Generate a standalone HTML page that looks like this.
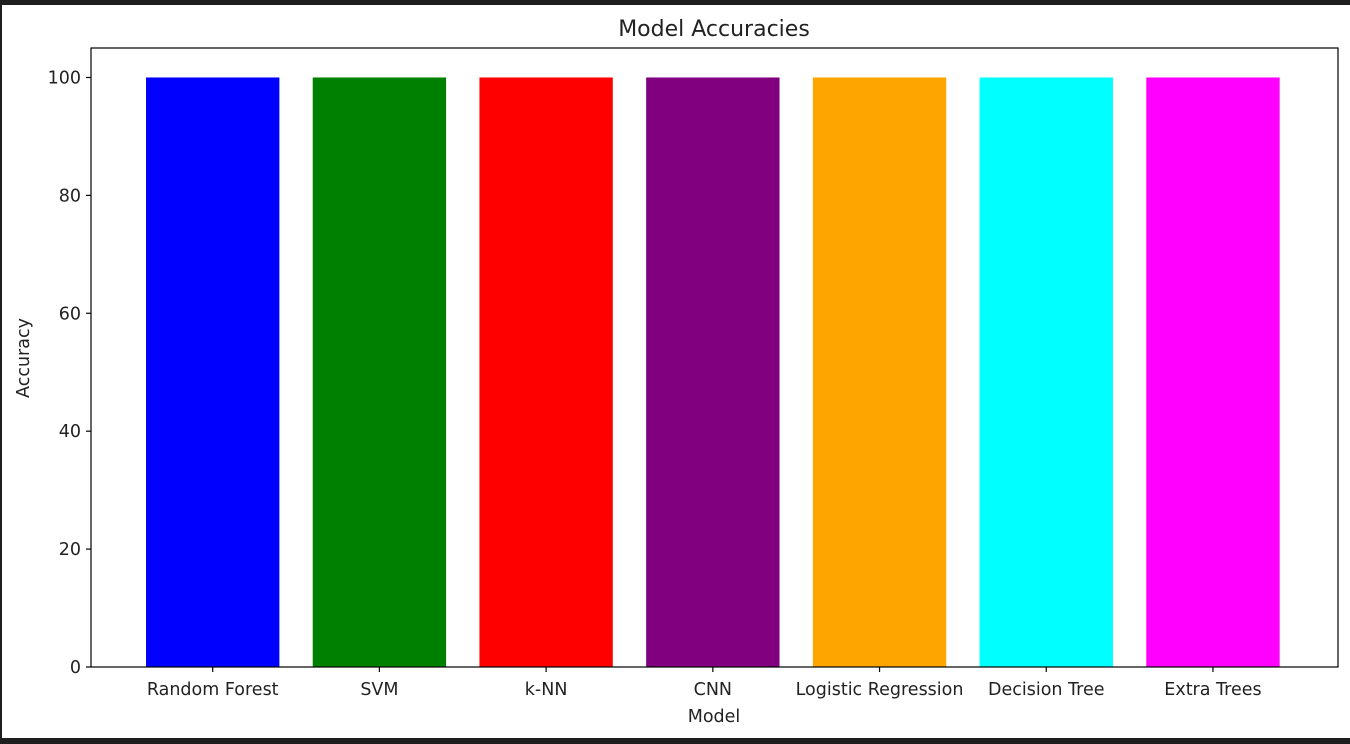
<!DOCTYPE html>
<html><head><meta charset="utf-8"><style>
body{margin:0;background:#1e1e1e;}
svg{display:block;font-family:"DejaVu Sans","Liberation Sans",sans-serif;}
</style></head><body>
<svg id="c" width="1350" height="744">
<rect x="2" y="5" width="1348" height="733" fill="#fff"/>
<g id="bars"></g>
<rect x="91" y="48" width="1247" height="619" fill="none" stroke="#000" stroke-width="1.2"/>
<text x="714" y="36" text-anchor="middle" font-size="22" fill="#222">Model Accuracies</text>
<text x="714" y="722" text-anchor="middle" font-size="17.5" fill="#222">Model</text>
<text x="29" y="358" text-anchor="middle" font-size="17.5" fill="#222" transform="rotate(-90 29 358)">Accuracy</text>
</svg>
<script>
const categories=["Random Forest","SVM","k-NN","CNN","Logistic Regression","Decision Tree","Extra Trees"];
const values=[100,100,100,100,100,100,100];
const colors=["#0000ff","#008000","#ff0000","#800080","#ffa500","#00ffff","#ff00ff"];
const yTicks=[0,20,40,60,80,100];
const L=91,R=1338,T=48,B=667,xmin=-0.73,xmax=6.75,ymax=105;
const sx=v=>L+(v-xmin)/(xmax-xmin)*(R-L);
const sy=v=>B-v/ymax*(B-T);
const NS="http://www.w3.org/2000/svg";
const g=document.getElementById('bars');
const svg=document.getElementById('c');
function mk(t,a,p){const e=document.createElementNS(NS,t);for(const k in a)e.setAttribute(k,a[k]);(p||svg).appendChild(e);return e;}
categories.forEach((c,i)=>{
 const x0=sx(i-0.4),x1=sx(i+0.4);
 const r=mk('rect',{x:x0,y:sy(values[i]),width:x1-x0,height:B-sy(values[i]),fill:colors[i]},g);
 
 
 const tk=mk('line',{x1:sx(i),x2:sx(i),y1:B,y2:B+5,stroke:'#000','stroke-width':1.2});
 
 
 const t=mk('text',{x:sx(i),y:B+28,'text-anchor':'middle','font-size':17.5,fill:'#222'});
 t.textContent=c;
 
 
});
yTicks.forEach(v=>{
 const tk=mk('line',{x1:L-5,x2:L,y1:sy(v),y2:sy(v),stroke:'#000','stroke-width':1.2});
 
 
 const t=mk('text',{x:L-10,y:sy(v)+6,'text-anchor':'end','font-size':17.5,fill:'#222'});
 t.textContent=v;
 
 
});
</script>
</body></html>
